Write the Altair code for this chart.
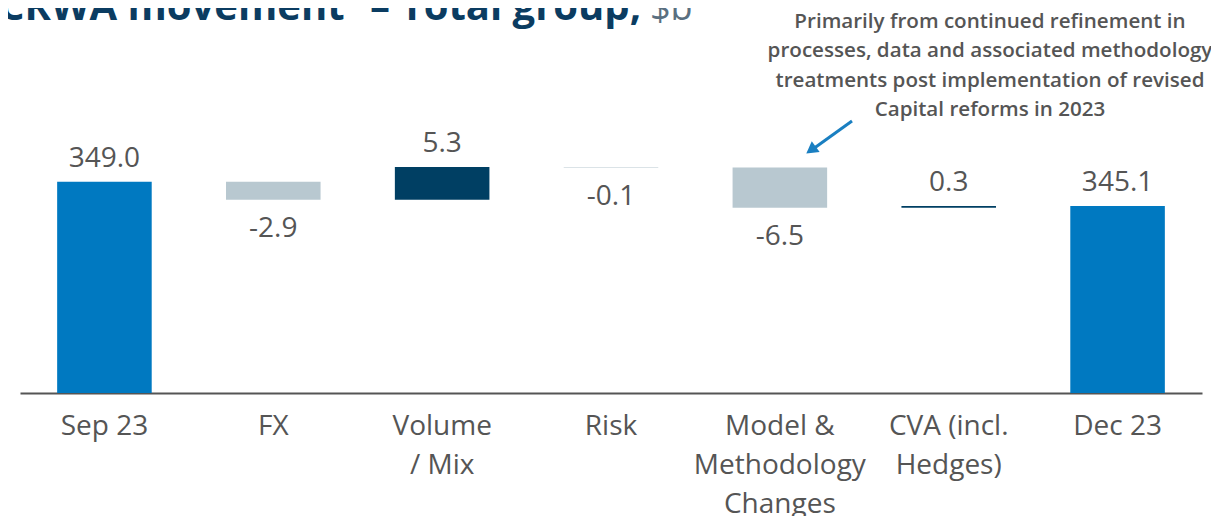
import altair as alt
import pandas as pd

categories = ["Sep 23", "FX", "Volume\n/ Mix", "Risk", "Model &\nMethodology\nChanges", "CVA (incl.\nHedges)", "Dec 23"]
values = [349.0, -2.9, 5.3, -0.1, -6.5, 0.3, 345.1]
kinds = ["total", "delta", "delta", "delta", "delta", "delta", "total"]
labels = ["349.0", "-2.9", "5.3", "-0.1", "-6.5", "0.3", "345.1"]

title_main = "CRWA movement\u00b9 \u2013 Total group,"
title_unit = "$b"
note = "Primarily from continued refinement in\nprocesses, data and associated methodology\ntreatments post implementation of revised\nCapital reforms in 2023"

rows = []
running = 0.0
for c, v, k, l in zip(categories, values, kinds, labels):
    if k == "total":
        start, end = 0.0, v
        running = v
        kind = "total"
    else:
        start, end = running, running + v
        running = end
        kind = "up" if v > 0 else "down"
    rows.append({"cat": c, "start": start, "end": end, "hi": max(start, end),
                 "lo": min(start, end), "kind": kind, "label": l, "neg": v < 0})
df = pd.DataFrame(rows)

FONT = "Open Sans"
W, H = 1182, 293

xenc = alt.X("cat:N", sort=categories,
             scale=alt.Scale(paddingInner=0.44, paddingOuter=0.22),
             axis=alt.Axis(title=None, labelAngle=0, domainColor="#555555", domainWidth=2,
                           ticks=False, labelFont=FONT, labelFontSize=28, labelColor="#555555",
                           labelPadding=19, labelLineHeight=39,
                           labelExpr="split(datum.label, '\\n')"))
yscale = alt.Scale(domain=[314.9, 362.2], clamp=True, zero=False, nice=False)

base = alt.Chart(df)
bars = base.mark_bar().encode(
    x=xenc,
    y=alt.Y("start:Q", scale=yscale, axis=None),
    y2="end:Q",
    color=alt.Color("kind:N", scale=alt.Scale(domain=["total", "up", "down"],
                                              range=["#0079c1", "#003f63", "#b8c8d0"]), legend=None),
)

pos_labels = base.transform_filter("!datum.neg").mark_text(
    font=FONT, fontSize=28, color="#555555", baseline="alphabetic", dy=-15
).encode(x=alt.X("cat:N", sort=categories), y=alt.Y("hi:Q", scale=yscale), text="label:N")

neg_labels = base.transform_filter("datum.neg").mark_text(
    font=FONT, fontSize=28, color="#555555", baseline="alphabetic", dy=37
).encode(x=alt.X("cat:N", sort=categories), y=alt.Y("lo:Q", scale=yscale), text="label:N")

title1 = alt.Chart(pd.DataFrame({"t": [title_main]})).mark_text(
    font=FONT, fontSize=40, fontWeight="bold", color="#0b3c61", align="left", baseline="alphabetic"
).encode(x=alt.value(-21), y=alt.value(-80), text="t:N")
title2 = alt.Chart(pd.DataFrame({"t": [title_unit]})).mark_text(
    font=FONT, fontSize=36, color="#5a6f80", align="left", baseline="alphabetic"
).encode(x=alt.value(630), y=alt.value(-80), text="t:N")

note_txt = alt.Chart(pd.DataFrame({"t": [note]})).mark_text(
    font=FONT, fontSize=20.6, fontWeight=600, color="#555555", align="center",
    baseline="alphabetic", lineBreak="\n", lineHeight=29.3
).encode(x=alt.value(970), y=alt.value(-72), text="t:N")

arrow_line = alt.Chart(pd.DataFrame({"a": [0]})).mark_rule(color="#1a7fc1", strokeWidth=3).encode(
    x=alt.value(832), y=alt.value(21), x2=alt.value(793), y2=alt.value(49))
arrow_head = alt.Chart(pd.DataFrame({"a": [0]})).mark_point(
    shape="triangle-up", filled=True, color="#1a7fc1", size=180, angle=234, opacity=1
).encode(x=alt.value(791), y=alt.value(50))

chart = alt.layer(bars, pos_labels, neg_labels, title1, title2, note_txt, arrow_line, arrow_head).properties(
    width=W, height=H,
    autosize=alt.AutoSizeParams(type="none"),
    padding={"left": 12, "top": 92, "right": 9, "bottom": 130},
    background="white",
).configure_view(stroke="transparent", strokeWidth=0)

chart.save("out.html", embed_options={"renderer": "svg", "actions": False})
